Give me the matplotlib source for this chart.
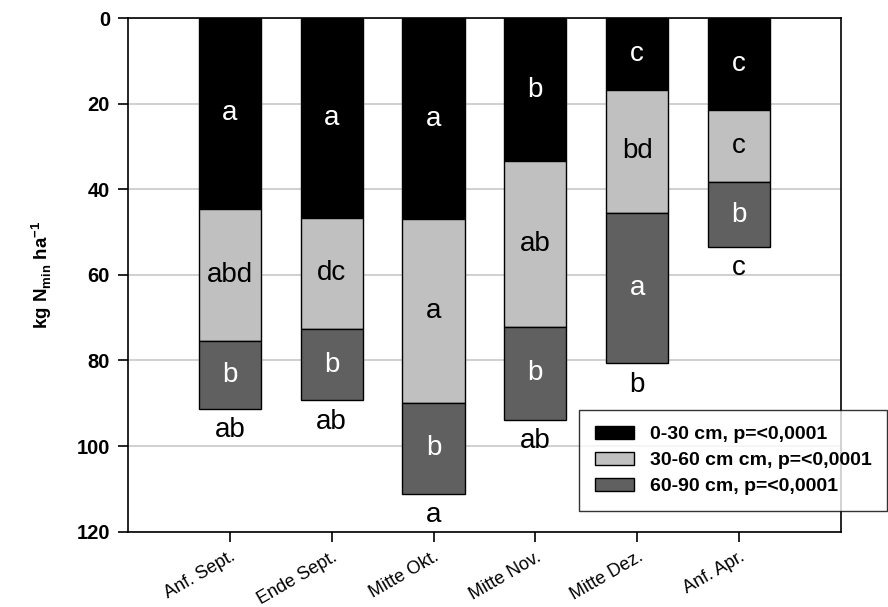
import matplotlib
matplotlib.use("Agg")
import matplotlib.pyplot as plt
import numpy as np

plt.rcParams["font.family"] = ["Liberation Sans", "DejaVu Sans"]
plt.rcParams["mathtext.fontset"] = "custom"
plt.rcParams["mathtext.rm"] = "Liberation Sans:bold"
plt.rcParams["mathtext.bf"] = "Liberation Sans:bold"

kategorien = ["Anf. Sept.", "Ende Sept.", "Mitte Okt.", "Mitte Nov.", "Mitte Dez.", "Anf. Apr."]

# kg N/ha je Tiefe
n_0_30 = [44.6, 46.6, 47.0, 33.4, 16.7, 21.6]
n_30_60 = [30.8, 26.0, 42.9, 38.7, 28.9, 16.7]
n_60_90 = [15.9, 16.7, 21.3, 21.8, 35.1, 15.2]

buchst_0_30 = ["a", "a", "a", "b", "c", "c"]
buchst_30_60 = ["abd", "dc", "a", "ab", "bd", "c"]
buchst_60_90 = ["b", "b", "b", "b", "a", "b"]
buchst_summe = ["ab", "ab", "a", "ab", "b", "c"]

legende = ["0-30 cm, p=<0,0001", "30-60 cm cm, p=<0,0001", "60-90 cm, p=<0,0001"]
farben = ["#000000", "#c0c0c0", "#606060"]

fig = plt.figure(figsize=(8.88, 6.07), dpi=100)
ax = fig.add_axes([0.1441, 0.124, 0.8029, 0.8463])

x = np.arange(len(kategorien))
breite = 0.61
unten = np.zeros(len(kategorien))

for werte, farbe, name in zip([n_0_30, n_30_60, n_60_90], farben, legende):
    ax.bar(x, werte, breite, bottom=unten, color=farbe,
           edgecolor="black", linewidth=1, label=name, zorder=3)
    unten = unten + np.array(werte)

# Buchstaben in den Segmenten
start = np.zeros(len(kategorien))
for werte, buchst, tfarbe in zip([n_0_30, n_30_60, n_60_90],
                                 [buchst_0_30, buchst_30_60, buchst_60_90],
                                 ["white", "black", "white"]):
    for i in range(len(kategorien)):
        ax.text(x[i], start[i] + werte[i] / 2, buchst[i], ha="center",
                va="center", fontsize=20, color=tfarbe, zorder=4)
    start = start + np.array(werte)

for i in range(len(kategorien)):
    ax.text(x[i], unten[i] + 5, buchst_summe[i], ha="center", va="center",
            fontsize=20, color="black", zorder=4)

ax.set_xlim(-1, 6)
ax.set_ylim(120, 0)
ax.set_yticks([0, 20, 40, 60, 80, 100, 120])
ax.set_xticks(x)
ax.set_xticklabels(kategorien, rotation=30, ha="right",
                   rotation_mode="anchor", fontsize=13)
for lbl in ax.get_yticklabels():
    lbl.set_fontweight("bold")
    lbl.set_fontsize(14.5)

ax.tick_params(axis="both", direction="out", length=7, width=1.2)
ax.tick_params(axis="y", pad=6)
ax.tick_params(axis="x", pad=5)

ax.grid(axis="y", color="#c8c8c8", linewidth=1.2, zorder=0)
ax.set_axisbelow(True)

for s in ax.spines.values():
    s.set_linewidth(1.2)

ax.set_ylabel(r"kg N$_{\mathrm{min}}$ ha$^{\mathrm{-1}}$", fontsize=13.5,
              fontweight="bold", labelpad=16)

leg = ax.legend(loc="upper left", bbox_to_anchor=(579 / 888, 1 - 410 / 607),
                bbox_transform=fig.transFigure, frameon=True, fancybox=False,
                edgecolor="black", prop={"weight": "bold", "size": 14},
                handlelength=2.05, handleheight=0.65, borderpad=0.8,
                labelspacing=0.45, handletextpad=0.8, borderaxespad=0)
leg.get_frame().set_linewidth(1.0)
leg.set_zorder(10)

fig.savefig("out.png", dpi=100)
